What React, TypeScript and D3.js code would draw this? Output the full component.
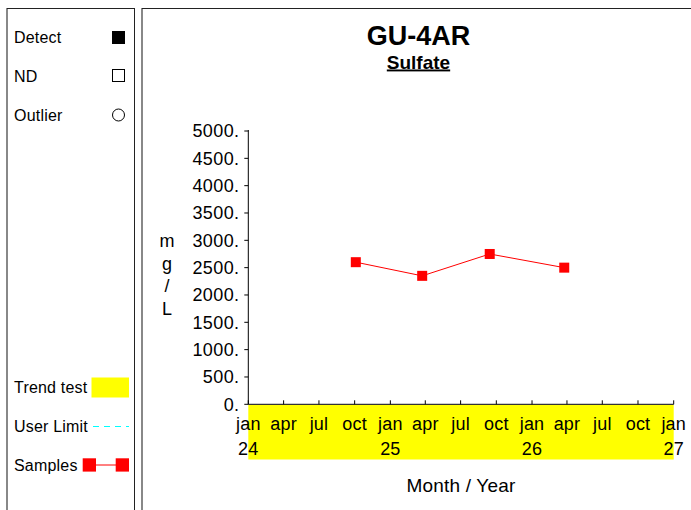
import React from "react";
import * as d3 from "d3";

// sample dates and sulfate results (mg/L)
const sampleDates = ["2024-10-04", "2025-03-24", "2025-09-14", "2026-03-25"];
const sampleValues = [2600, 2350, 2750, 2500];
const yTicks = [0, 500, 1000, 1500, 2000, 2500, 3000, 3500, 4000, 4500, 5000];
const xDomain = ["2024-01-01", "2027-01-01"];
const yLabelChars = ["m", "g", "/", "L"];

const FONT = "'Liberation Sans', Arial, sans-serif";

const App = () => {
  const parse = d3.timeParse("%Y-%m-%d");
  const x = d3
    .scaleTime()
    .domain(xDomain.map((d) => parse(d) as Date))
    .range([248.3, 673.7]);
  const y = d3.scaleLinear().domain([0, 5000]).range([404.3, 131]);

  const points = sampleDates.map((d, i) => ({ date: parse(d) as Date, value: sampleValues[i] }));
  const line = d3
    .line<{ date: Date; value: number }>()
    .x((p) => x(p.date))
    .y((p) => y(p.value));

  const xTicks = x.ticks(d3.timeMonth.every(3) as d3.TimeInterval);
  const monthFmt = d3.timeFormat("%b");
  const yearFmt = d3.timeFormat("%y");
  const [x0, x1] = x.range();
  const [y0, y1] = y.range();

  return (
    <svg
      width={691}
      height={510}
      style={{ position: "absolute", left: 0, top: 0, fontFamily: FONT }}
    >
      <rect width={691} height={510} fill="#fff" />

      {/* legend panel */}
      <line x1={7} y1={8} x2={7} y2={510} stroke="#888" strokeWidth={2} />
      <line x1={7} y1={8.5} x2={135} y2={8.5} stroke="#222" />
      <line x1={134.5} y1={8} x2={134.5} y2={510} stroke="#222" />
      <g fontSize={16} letterSpacing={0.2} fill="#000">
        <text x={14} y={43}>Detect</text>
        <rect x={112} y={31} width={13} height={13} fill="#000" />
        <text x={14} y={81.5}>ND</text>
        <rect x={112.5} y={69.5} width={12} height={12} fill="none" stroke="#000" />
        <text x={14} y={121}>Outlier</text>
        <circle cx={118.5} cy={115} r={6} fill="none" stroke="#000" />

        <text x={14} y={393}>Trend test</text>
        <rect x={91.5} y={377.5} width={37.5} height={20} fill="#ffff00" />
        <text x={14} y={432}>User Limit</text>
        <line x1={93} y1={426.5} x2={129} y2={426.5} stroke="#00ffff" strokeDasharray="6,5" />
        <text x={14} y={471}>Samples</text>
        <line x1={89} y1={465} x2={122} y2={465} stroke="red" />
        <rect x={82.7} y={458.3} width={13.3} height={13.3} fill="red" />
        <rect x={115.7} y={458.3} width={13.3} height={13.3} fill="red" />
      </g>

      {/* chart panel */}
      <line x1={142} y1={8} x2={142} y2={510} stroke="#888" strokeWidth={2} />
      <line x1={142} y1={8.5} x2={691} y2={8.5} stroke="#222" />

      <text x={418.5} y={44.5} textAnchor="middle" fontSize={27} fontWeight="bold">
        GU-4AR
      </text>
      <text
        x={418.5}
        y={68.5}
        textAnchor="middle"
        fontSize={19}
        fontWeight="bold"
        textDecoration="underline"
      >
        Sulfate
      </text>

      {/* trend test band */}
      <rect x={x0} y={y0 + 0.7} width={x1 - x0} height={54.5} fill="#ffff00" />

      {/* y axis */}
      <line x1={x0} y1={y1 - 1} x2={x0} y2={y0} stroke="#000" />
      {yTicks.map((t) => (
        <g key={t}>
          <line x1={x0 - 4} y1={y(t)} x2={x0} y2={y(t)} stroke="#000" />
          <text
            x={239.5}
            y={y(t)}
            dy="0.36em"
            textAnchor="end"
            fontSize={18}
            letterSpacing={0.4}
          >
            {t + "."}
          </text>
        </g>
      ))}
      {yLabelChars.map((c, i) => (
        <text key={i} x={167} y={247 + i * 22.5} textAnchor="middle" fontSize={18}>
          {c}
        </text>
      ))}

      {/* x axis */}
      <line x1={x0} y1={y0} x2={x1} y2={y0} stroke="#000" />
      {xTicks.map((t) => (
        <g key={t.getTime()}>
          <line x1={x(t)} y1={y0 - 4} x2={x(t)} y2={y0} stroke="#000" />
          <text x={x(t)} y={430} textAnchor="middle" fontSize={18} letterSpacing={0.2}>
            {monthFmt(t).toLowerCase()}
          </text>
          {t.getMonth() === 0 && (
            <text x={x(t)} y={455} textAnchor="middle" fontSize={18} letterSpacing={0.2}>
              {yearFmt(t)}
            </text>
          )}
        </g>
      ))}
      <text x={(x0 + x1) / 2} y={492} textAnchor="middle" fontSize={19} letterSpacing={0.2}>
        Month / Year
      </text>

      {/* samples */}
      <path d={line(points) || ""} fill="none" stroke="red" strokeWidth={1} />
      {points.map((p, i) => (
        <rect
          key={i}
          x={x(p.date) - 5}
          y={y(p.value) - 5}
          width={10}
          height={10}
          fill="red"
        />
      ))}
    </svg>
  );
};

export default App;
